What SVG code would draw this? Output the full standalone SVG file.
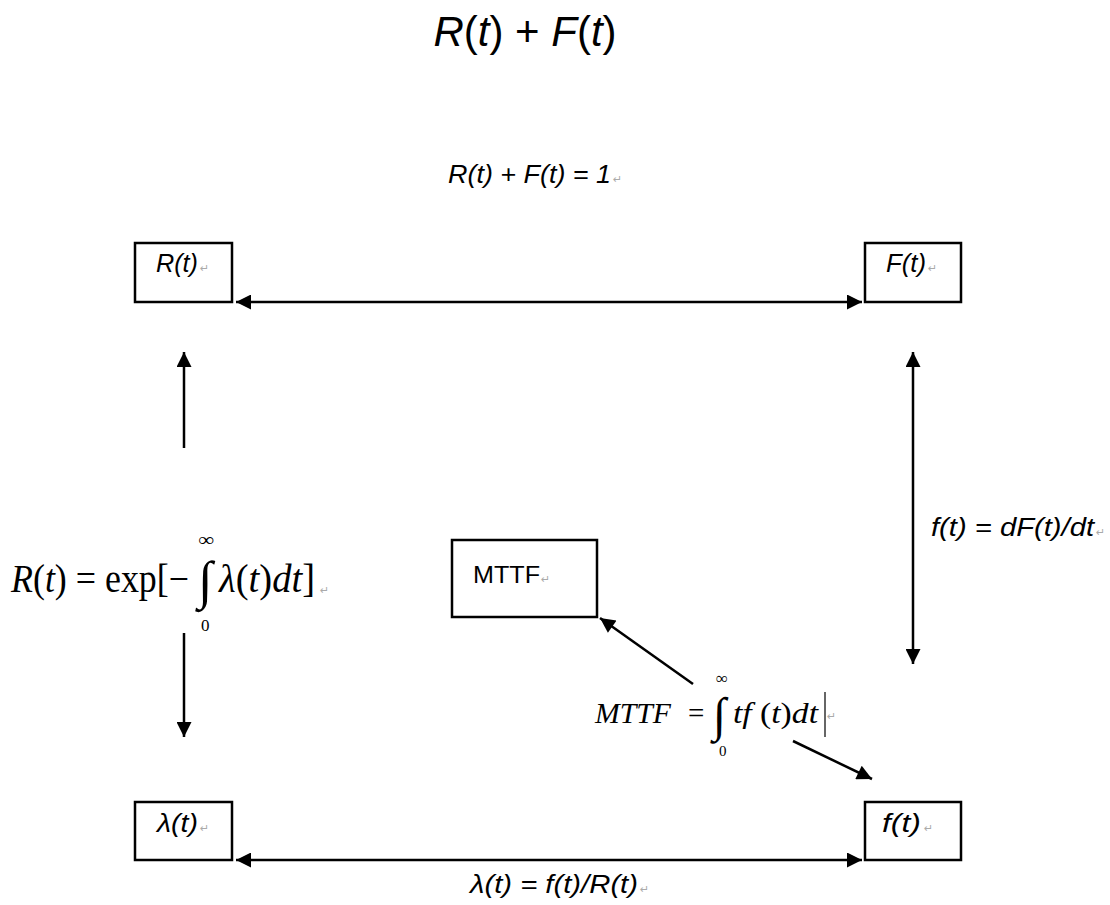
<svg xmlns="http://www.w3.org/2000/svg" width="1110" height="905" viewBox="0 0 1110 905">
<style>
.box{fill:#fff;stroke:#000;stroke-width:2.5}
.line{stroke:#000;stroke-width:2.5;fill:none}
.lbl{font-family:"Liberation Sans",Arial,sans-serif;font-style:italic;fill:#000}
.ser{font-family:"Liberation Serif","Times New Roman",serif;fill:#000}
.pm{font-family:"DejaVu Sans",sans-serif;fill:#aaa;font-style:normal}
</style>
<defs>
<marker id="ah" viewBox="0 0 10 10" refX="10" refY="5" markerWidth="7" markerHeight="6" markerUnits="strokeWidth" orient="auto-start-reverse">
<path d="M0,0 L10,5 L0,10 z" fill="#000"/>
</marker>
</defs>
<rect width="1110" height="905" fill="#fff"/>
<text x="525" y="46" text-anchor="middle" font-family="Liberation Sans,Arial,sans-serif" font-size="42" fill="#000"><tspan font-style="italic">R</tspan>(<tspan font-style="italic">t</tspan>) + <tspan font-style="italic">F</tspan>(<tspan font-style="italic">t</tspan>)</text>
<text x="448" y="183" class="lbl" font-size="25" textLength="163" lengthAdjust="spacingAndGlyphs">R(t) + F(t) = 1</text>
<text x="613" y="183" class="pm" font-size="11">↵</text>

<g id="connectors">
<line class="line" x1="236" y1="302" x2="862" y2="302" marker-start="url(#ah)" marker-end="url(#ah)"/>
<line class="line" x1="184" y1="448" x2="184" y2="352" marker-end="url(#ah)"/>
<line class="line" x1="913" y1="352" x2="913" y2="664" marker-start="url(#ah)" marker-end="url(#ah)"/>
<line class="line" x1="184" y1="633" x2="184" y2="737" marker-end="url(#ah)"/>
<line class="line" x1="693" y1="684" x2="600" y2="618" marker-end="url(#ah)"/>
<line class="line" x1="793" y1="741" x2="872" y2="779" marker-end="url(#ah)"/>
<line class="line" x1="236" y1="860" x2="862" y2="860" marker-start="url(#ah)" marker-end="url(#ah)"/>
</g>

<g id="node-R">
<rect class="box" x="135" y="243" width="97" height="59"/>
<text x="156" y="272" class="lbl" font-size="25" textLength="42" lengthAdjust="spacingAndGlyphs">R(t)</text>
<text x="200" y="272" class="pm" font-size="11">↵</text>
</g>
<g id="node-F">
<rect class="box" x="865" y="243" width="96" height="59"/>
<text x="886" y="272" class="lbl" font-size="25" textLength="40" lengthAdjust="spacingAndGlyphs">F(t)</text>
<text x="928" y="272" class="pm" font-size="11">↵</text>
</g>
<g id="node-lambda">
<rect class="box" x="135" y="802" width="97" height="58"/>
<text x="157" y="832" class="lbl" font-size="25" textLength="41" lengthAdjust="spacingAndGlyphs">λ(t)</text>
<text x="200" y="832" class="pm" font-size="11">↵</text>
</g>
<g id="node-f">
<rect class="box" x="865" y="802" width="96" height="58"/>
<text x="882" y="832" class="lbl" font-size="25" textLength="39" lengthAdjust="spacingAndGlyphs">f(t)</text>
<text x="924" y="832" class="pm" font-size="11">↵</text>
</g>
<g id="node-MTTF">
<rect class="box" x="452" y="540" width="145" height="77"/>
<text x="473" y="583" font-family="Liberation Sans,Arial,sans-serif" font-size="23" fill="#000" textLength="67" lengthAdjust="spacingAndGlyphs">MTTF</text>
<text x="541" y="583" class="pm" font-size="11">↵</text>
</g>

<text x="931" y="536" class="lbl" font-size="25" textLength="163" lengthAdjust="spacingAndGlyphs">f(t) = dF(t)/dt</text>
<text x="1096" y="536" class="pm" font-size="11">↵</text>

<g id="formula-R">
<text x="11" y="592" class="ser" font-size="40" textLength="178" lengthAdjust="spacingAndGlyphs"><tspan font-style="italic">R</tspan>(<tspan font-style="italic">t</tspan>) = exp[−</text>
<text x="198" y="598" class="ser" font-size="53">∫</text>
<text x="198" y="546" class="ser" font-size="19" textLength="16" lengthAdjust="spacingAndGlyphs">∞</text>
<text x="201" y="631" class="ser" font-size="17">0</text>
<text x="219" y="592" class="ser" font-size="40" textLength="96" lengthAdjust="spacingAndGlyphs"><tspan font-style="italic">λ</tspan>(<tspan font-style="italic">t</tspan>)<tspan font-style="italic">dt</tspan>]</text>
<text x="320" y="594" class="pm" font-size="11">↵</text>
</g>

<g id="formula-MTTF">
<text x="595" y="723" class="ser" font-size="29" font-style="italic" textLength="76" lengthAdjust="spacingAndGlyphs">MTTF</text>
<text x="688" y="723" class="ser" font-size="29">=</text>
<text x="713" y="731" class="ser" font-size="48">∫</text>
<text x="716" y="684" class="ser" font-size="17" textLength="12" lengthAdjust="spacingAndGlyphs">∞</text>
<text x="719" y="756" class="ser" font-size="15">0</text>
<text x="733" y="723" class="ser" font-size="30" textLength="85" lengthAdjust="spacingAndGlyphs"><tspan font-style="italic">tf</tspan> (<tspan font-style="italic">t</tspan>)<tspan font-style="italic">dt</tspan></text>
<line x1="825" y1="692" x2="825" y2="737" stroke="#333" stroke-width="1.5"/>
<text x="827" y="720" class="pm" font-size="11">↵</text>
</g>

<text x="470" y="893" class="lbl" font-size="25" textLength="168" lengthAdjust="spacingAndGlyphs">λ(t) = f(t)/R(t)</text>
<text x="640" y="893" class="pm" font-size="11">↵</text>
</svg>
